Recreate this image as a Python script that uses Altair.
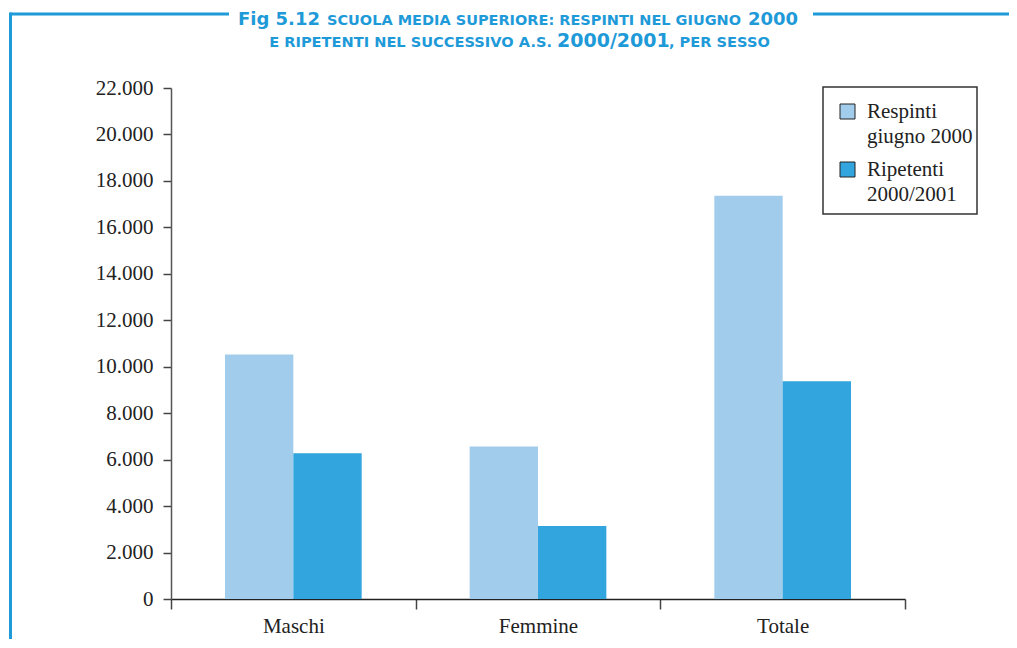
import altair as alt
import pandas as pd

# ---- data ----
categorie = ["Maschi", "Femmine", "Totale"]
serie = ["Respinti giugno 2000", "Ripetenti 2000/2001"]
respinti = [10530, 6570, 17360]
ripetenti = [6270, 3140, 9370]
y_ticks = [0, 2000, 4000, 6000, 8000, 10000, 12000, 14000, 16000, 18000, 20000, 22000]

colori = ["#A1CCEC", "#32A5DE"]

rows = []
for c, r1, r2 in zip(categorie, respinti, ripetenti):
    rows.append({"cat": c, "serie": serie[0], "valore": r1})
    rows.append({"cat": c, "serie": serie[1], "valore": r2})
df = pd.DataFrame(rows)

W, H = 734, 511
LEFT, TOP = 163, 80  # padding; plot origin = 8 + padding
OX, OY = 8 + LEFT, 8 + TOP
SERIF = "Liberation Serif"
TFONT = "DejaVu Sans"
BLUE = "#1E9AD8"

bars = alt.Chart(df).mark_bar().encode(
    x=alt.X("cat:N", sort=categorie,
            scale=alt.Scale(paddingInner=0, paddingOuter=0),
            axis=alt.Axis(title=None, labelAngle=0, tickBand="extent", tickSize=10,
                          labelPadding=6, labelFont=SERIF, labelFontSize=21,
                          labelColor="#222", domainColor="#222", tickColor="#444",
                          domainWidth=1.5, tickWidth=1.5)),
    xOffset=alt.XOffset("serie:N", sort=serie,
                        scale=alt.Scale(paddingInner=0, paddingOuter=0.79)),
    y=alt.Y("valore:Q", scale=alt.Scale(domain=[0, 22000], nice=False),
            axis=alt.Axis(values=y_ticks, title=None, grid=False, tickSize=8,
                          labelPadding=10, labelFont=SERIF, labelFontSize=21,
                          labelColor="#222", domainColor="#555", tickColor="#444",
                          domainWidth=1.5, tickWidth=1.5,
                          labelExpr="datum.value == 0 ? '0' : replace(format(datum.value, ','), ',', '.')")),
    color=alt.Color("serie:N", sort=serie,
                    scale=alt.Scale(domain=serie, range=colori),
                    legend=alt.Legend(
                        title=None, orient="none", legendX=666, legendY=13,
                        padding=0, symbolType="square",
                        symbolSize=225, symbolStrokeColor="#222", symbolStrokeWidth=1,
                        symbolOpacity=1,
                        labelFont=SERIF, labelFontSize=21, labelColor="#222",
                        labelLimit=300, labelOffset=9, rowPadding=11,
                        labelExpr="[slice(datum.label, 0, indexof(datum.label, ' ')), slice(datum.label, indexof(datum.label, ' ') + 1)]")),
)

# ---- legend frame (decorative box) ----
legend_box = alt.Chart().mark_rect(filled=False, stroke="#333", strokeWidth=1.5).encode(
    x=alt.value(823 - OX), x2=alt.value(977 - OX),
    y=alt.value(87 - OY), y2=alt.value(214 - OY))

# ---- title pieces (mixed sizes, small caps look) ----
# (text, font size, anchor x, baseline y, align)
title_pieces = [
    ("Fig 5.12", 18, 320, 25, "right"),
    ("SCUOLA MEDIA SUPERIORE: RESPINTI NEL GIUGNO", 14.5, 534, 25, "center"),
    ("2000", 18, 748, 25, "left"),
    ("E RIPETENTI NEL SUCCESSIVO A.S.", 14.6, 552, 47, "right"),
    ("2000/2001", 19, 557, 47, "left"),
    (", PER SESSO", 14.6, 669, 47, "left"),
]
layers = [legend_box, bars]
for txt, size, px, py, al in title_pieces:
    layers.append(
        alt.Chart().mark_text(text=txt, font=TFONT, fontSize=size, fontWeight="bold",
                              color=BLUE, align=al, baseline="alphabetic").encode(
            x=alt.value(px - OX), y=alt.value(py - OY))
    )

# ---- decorative frame lines ----
frame = [
    (10, 229, 14),
    (813, 1017, 14),
]
for x1, x2, y1 in frame:
    layers.append(
        alt.Chart().mark_rule(color=BLUE, strokeWidth=3, strokeCap="butt").encode(
            x=alt.value(x1 - OX), x2=alt.value(x2 - OX), y=alt.value(y1 - OY))
    )
layers.append(
    alt.Chart().mark_rule(color=BLUE, strokeWidth=3, strokeCap="butt").encode(
        x=alt.value(10.5 - OX), y=alt.value(12.5 - OY), y2=alt.value(660 - OY))
)

chart = alt.layer(*layers).properties(
    width=W, height=H,
    padding={"left": LEFT, "top": TOP, "right": 104, "bottom": 40},
    autosize=alt.AutoSizeParams(type="none"),
    background="white",
).configure(style={"guide-label": {"lineHeight": 25}}).configure_view(stroke=None)

chart.save("out.html", embed_options={"renderer": "svg", "actions": False})
